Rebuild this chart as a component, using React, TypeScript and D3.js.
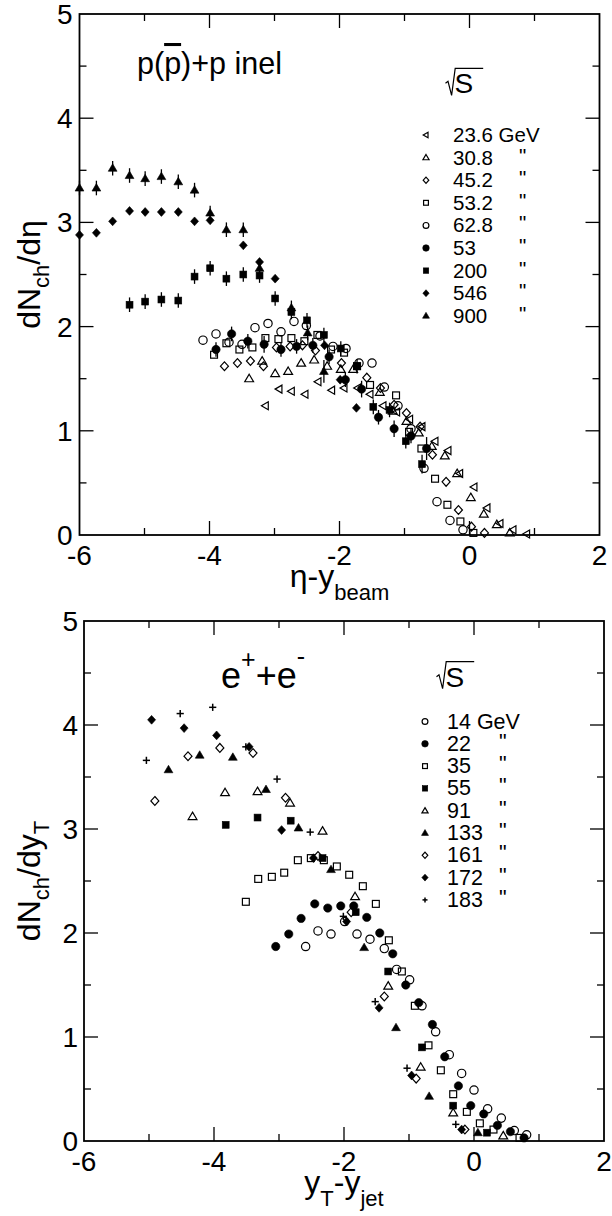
import React from 'react';
import * as d3 from 'd3';

type Pt = [number, number];
type PtE = [number, number, number];
type Kind = 'circle' | 'square' | 'diamond' | 'tri' | 'ltri' | 'plus';

const FONT = '"Liberation Sans", Arial, Helvetica, sans-serif';

// ---------- tick labels ----------
const xTickValues = [-6, -4, -2, 0, 2];
const xTickLabels = ['-6', '-4', '-2', '0', '2'];
const xMinorTicks = [-5, -3, -1, 1];
const yTickValues = [0, 1, 2, 3, 4, 5];
const yTickLabels = ['0', '1', '2', '3', '4', '5'];
const yMinorTicks = [0.5, 1.5, 2.5, 3.5, 4.5];

// ---------- top panel: p(pbar)+p inelastic, dNch/deta vs eta - ybeam ----------
const ppLabels = ['23.6 GeV', '30.8', '45.2', '53.2', '62.8', '53', '200', '546', '900'];
const pp236: Pt[] = [
  [-3.14, 1.24], [-2.93, 1.40], [-2.74, 1.38], [-2.53, 1.35], [-2.33, 1.47], [-2.12, 1.39],
  [-1.93, 1.41], [-1.72, 1.41], [-1.53, 1.35], [-1.33, 1.24], [-1.12, 1.18], [-0.92, 1.11],
  [-0.73, 1.04], [-0.53, 0.90], [-0.33, 0.81], [-0.15, 0.59], [0.07, 0.46], [0.27, 0.26],
  [0.47, 0.11], [0.67, 0.05], [0.88, 0.01],
];
const pp308: Pt[] = [
  [-3.39, 1.50], [-3.19, 1.67], [-2.99, 1.55], [-2.79, 1.57], [-2.59, 1.65], [-2.39, 1.68],
  [-2.19, 1.62], [-1.98, 1.59], [-1.79, 1.59], [-1.38, 1.37], [-1.18, 1.19], [-0.97, 1.09],
  [-0.78, 0.98], [-0.58, 0.85], [-0.38, 0.76], [-0.19, 0.59], [0.02, 0.36], [0.22, 0.20],
  [0.42, 0.10], [0.62, 0.02],
];
const pp452: Pt[] = [
  [-3.77, 1.62], [-3.57, 1.65], [-3.37, 1.67], [-3.17, 1.62], [-2.97, 1.80], [-2.76, 1.81],
  [-2.57, 1.82], [-2.37, 1.77], [-1.97, 1.65], [-1.58, 1.51], [-1.37, 1.41], [-1.16, 1.25],
  [-0.97, 1.17], [-0.76, 1.04], [-0.57, 0.77], [-0.36, 0.51], [-0.17, 0.24], [0.03, 0.08],
  [0.23, 0.02],
];
const pp532: Pt[] = [
  [-3.93, 1.73], [-3.74, 1.84], [-3.54, 1.78], [-3.34, 1.80], [-3.14, 1.89], [-2.94, 1.88],
  [-2.74, 1.89], [-2.54, 1.86], [-2.34, 1.92], [-2.13, 1.78], [-1.93, 1.75], [-1.73, 1.62],
  [-1.53, 1.44], [-1.13, 1.34], [-0.93, 0.99], [-0.74, 0.83], [-0.53, 0.54], [-0.34, 0.29],
  [-0.14, 0.13], [0.06, 0.02],
];
const pp628: Pt[] = [
  [-4.10, 1.87], [-3.90, 1.93], [-3.70, 1.85], [-3.50, 1.83], [-3.30, 1.99], [-3.10, 2.03],
  [-2.90, 1.95], [-2.70, 2.05], [-2.51, 2.01], [-2.30, 1.91], [-2.10, 1.81], [-1.90, 1.79],
  [-1.70, 1.65], [-1.50, 1.65], [-1.31, 1.42], [-1.10, 1.24], [-0.90, 1.02], [-0.70, 0.64],
  [-0.50, 0.32], [-0.30, 0.14], [-0.10, 0.05],
];
const pp53: PtE[] = [
  [-3.90, 1.78, 0.07], [-3.66, 1.93, 0.07], [-3.41, 1.86, 0.07], [-3.16, 1.83, 0.08],
  [-2.90, 1.78, 0.07], [-2.66, 1.81, 0.07], [-2.41, 1.82, 0.07], [-2.16, 1.71, 0.07],
  [-1.91, 1.49, 0.07], [-1.66, 1.40, 0.08], [-1.40, 1.13, 0.07], [-1.16, 1.02, 0.08],
  [-0.90, 0.95, 0.07], [-0.66, 0.83, 0.11],
];
const pp200: PtE[] = [
  [-5.23, 2.21, 0.07], [-4.99, 2.24, 0.07], [-4.74, 2.26, 0.07], [-4.48, 2.25, 0.07],
  [-4.23, 2.48, 0.07], [-3.99, 2.56, 0.07], [-3.74, 2.46, 0.07], [-3.48, 2.50, 0.07],
  [-3.23, 2.49, 0.07], [-2.99, 2.27, 0.07], [-2.74, 2.14, 0.07], [-2.50, 2.06, 0.07],
  [-2.24, 1.92, 0.07], [-1.98, 1.79, 0.07], [-1.73, 1.62, 0.07], [-1.48, 1.23, 0.07],
  [-1.23, 1.20, 0.07], [-0.98, 0.90, 0.07], [-0.73, 0.68, 0.09],
];
const pp546: PtE[] = [
  [-6.0, 2.88, 0], [-5.74, 2.90, 0], [-5.49, 3.01, 0], [-5.23, 3.11, 0], [-4.99, 3.10, 0],
  [-4.74, 3.10, 0], [-4.48, 3.10, 0], [-4.23, 3.01, 0], [-3.99, 3.02, 0], [-3.48, 2.78, 0],
  [-3.23, 2.62, 0], [-2.99, 2.46, 0], [-2.23, 1.82, 0], [-1.99, 1.49, 0], [-1.74, 1.22, 0],
];
const pp900: PtE[] = [
  [-6.0, 3.33, 0.07], [-5.74, 3.33, 0.07], [-5.49, 3.52, 0.07], [-5.23, 3.45, 0.07],
  [-4.99, 3.42, 0.07], [-4.74, 3.44, 0.07], [-4.48, 3.39, 0.07], [-4.23, 3.31, 0.07],
  [-3.99, 3.09, 0.07], [-3.74, 2.93, 0.07], [-3.48, 2.93, 0.07], [-3.23, 2.56, 0.07],
  [-2.74, 2.18, 0.07], [-2.49, 1.94, 0.07], [-2.24, 1.57, 0.11],
];

// ---------- bottom panel: e+e-, dNch/dyT vs yT - yjet ----------
const eeLabels = ['14 GeV', '22', '35', '55', '91', '133', '161', '172', '183'];
const ee14: Pt[] = [
  [-2.59, 1.87], [-2.40, 2.02], [-2.20, 1.99], [-1.99, 2.11], [-1.80, 1.99], [-1.60, 1.94],
  [-1.38, 1.85], [-1.19, 1.65], [-0.99, 1.55], [-0.80, 1.30], [-0.59, 1.05], [-0.38, 0.83],
  [-0.19, 0.65], [0.00, 0.49], [0.21, 0.31], [0.42, 0.22], [0.62, 0.10], [0.81, 0.06],
];
const ee22: Pt[] = [
  [-3.05, 1.87], [-2.85, 1.99], [-2.66, 2.14], [-2.45, 2.28], [-2.25, 2.24], [-2.05, 2.26],
  [-1.85, 2.26], [-1.65, 2.15], [-1.45, 2.00], [-1.25, 1.80], [-1.05, 1.50], [-0.85, 1.33],
  [-0.64, 1.12], [-0.45, 0.81], [-0.24, 0.53], [-0.05, 0.34], [0.15, 0.26], [0.36, 0.15],
  [0.56, 0.09], [0.77, 0.03],
];
const ee35: Pt[] = [
  [-3.51, 2.30], [-3.32, 2.52], [-3.11, 2.54], [-2.92, 2.58], [-2.71, 2.70], [-2.51, 2.72],
  [-2.31, 2.70], [-2.11, 2.64], [-1.92, 2.56], [-1.71, 2.45], [-1.51, 2.28], [-1.31, 1.93],
  [-1.11, 1.63], [-0.91, 1.30], [-0.70, 0.92], [-0.51, 0.68], [-0.32, 0.45], [-0.11, 0.28],
  [0.09, 0.17], [0.30, 0.11], [0.70, 0.03],
];
const ee55: Pt[] = [
  [-3.82, 3.04], [-3.33, 3.11], [-2.82, 3.08], [-2.33, 2.72], [-1.82, 2.20], [-1.32, 1.63],
  [-0.80, 0.90], [-0.32, 0.34], [0.20, 0.08],
];
const ee91: Pt[] = [
  [-4.33, 3.12], [-3.83, 3.35], [-3.33, 3.36], [-2.83, 3.25], [-2.33, 2.98], [-1.83, 2.35],
  [-1.32, 1.49], [-0.82, 0.71], [-0.32, 0.27], [0.45, 0.05],
];
const ee133: Pt[] = [
  [-4.70, 3.57], [-4.22, 3.71], [-3.71, 3.69], [-3.20, 3.38], [-2.70, 3.01], [-2.20, 2.61],
  [-1.69, 1.86], [-1.20, 1.09], [-0.69, 0.43], [0.06, 0.08],
];
const ee161: Pt[] = [
  [-4.91, 3.27], [-4.40, 3.70], [-3.91, 3.78], [-3.40, 3.73], [-2.90, 3.30], [-2.40, 2.74],
  [-1.89, 2.20], [-1.38, 1.39], [-0.89, 0.60], [-0.14, 0.11],
];
const ee172: Pt[] = [
  [-4.96, 4.05], [-4.46, 3.97], [-3.96, 3.90], [-3.46, 3.79], [-2.96, 2.99], [-2.47, 2.72],
  [-1.96, 2.11], [-1.46, 1.28], [-0.96, 0.63], [-0.19, 0.11],
];
const ee183: Pt[] = [
  [-5.04, 3.66], [-4.52, 4.11], [-4.02, 4.17], [-3.51, 3.79], [-3.03, 3.48], [-2.52, 2.97],
  [-2.01, 2.16], [-1.52, 1.34], [-1.03, 0.70], [-0.28, 0.16],
];

interface Series {
  label: string;
  kind: Kind;
  filled: boolean;
  data: PtE[];
}

const withErr = (d: Pt[]): PtE[] => d.map(([x, y]) => [x, y, 0] as PtE);

const ppSeries: Series[] = [
  { label: ppLabels[0], kind: 'ltri', filled: false, data: withErr(pp236) },
  { label: ppLabels[1], kind: 'tri', filled: false, data: withErr(pp308) },
  { label: ppLabels[2], kind: 'diamond', filled: false, data: withErr(pp452) },
  { label: ppLabels[3], kind: 'square', filled: false, data: withErr(pp532) },
  { label: ppLabels[4], kind: 'circle', filled: false, data: withErr(pp628) },
  { label: ppLabels[5], kind: 'circle', filled: true, data: pp53 },
  { label: ppLabels[6], kind: 'square', filled: true, data: pp200 },
  { label: ppLabels[7], kind: 'diamond', filled: true, data: pp546 },
  { label: ppLabels[8], kind: 'tri', filled: true, data: pp900 },
];

const eeSeries: Series[] = [
  { label: eeLabels[0], kind: 'circle', filled: false, data: withErr(ee14) },
  { label: eeLabels[1], kind: 'circle', filled: true, data: withErr(ee22) },
  { label: eeLabels[2], kind: 'square', filled: false, data: withErr(ee35) },
  { label: eeLabels[3], kind: 'square', filled: true, data: withErr(ee55) },
  { label: eeLabels[4], kind: 'tri', filled: false, data: withErr(ee91) },
  { label: eeLabels[5], kind: 'tri', filled: true, data: withErr(ee133) },
  { label: eeLabels[6], kind: 'diamond', filled: false, data: withErr(ee161) },
  { label: eeLabels[7], kind: 'diamond', filled: true, data: withErr(ee172) },
  { label: eeLabels[8], kind: 'plus', filled: false, data: withErr(ee183) },
];

function Marker({ kind, filled, cx, cy, s }: { kind: Kind; filled: boolean; cx: number; cy: number; s: number }) {
  const fill = filled ? '#000' : 'none';
  const sw = filled ? 0.6 : 1.2;
  const common = { fill, stroke: '#000', strokeWidth: sw };
  switch (kind) {
    case 'circle':
      return <circle cx={cx} cy={cy} r={s * 0.52} {...common} />;
    case 'square':
      return <rect x={cx - s * 0.43} y={cy - s * 0.43} width={s * 0.86} height={s * 0.86} {...common} />;
    case 'diamond': {
      const w = s * 0.5, h = s * 0.55;
      return <path d={`M${cx},${cy - h}L${cx + w},${cy}L${cx},${cy + h}L${cx - w},${cy}Z`} {...common} />;
    }
    case 'tri': {
      const w = s * 0.55, h1 = s * 0.55, h2 = s * 0.38;
      return <path d={`M${cx},${cy - h1}L${cx + w},${cy + h2}L${cx - w},${cy + h2}Z`} {...common} />;
    }
    case 'ltri': {
      const h = s * 0.5, w1 = s * 0.5, w2 = s * 0.36;
      return <path d={`M${cx - w1},${cy}L${cx + w2},${cy - h}L${cx + w2},${cy + h}Z`} {...common} />;
    }
    case 'plus': {
      const a = s * 0.45;
      return (
        <g stroke="#000" strokeWidth={1.5}>
          <line x1={cx - a} y1={cy} x2={cx + a} y2={cy} />
          <line x1={cx} y1={cy - a} x2={cx} y2={cy + a} />
        </g>
      );
    }
  }
  return null;
}

interface PanelProps {
  x0: number; x1: number; y0: number; y1: number;
  series: Series[];
  legendX: number; legendTextX: number; quoteX: number; legendY: number; legendStep: number;
  legendFont: number;
  sqrtX: number; sqrtY: number;
  yTitle: React.ReactNode;
  xTitle: React.ReactNode;
  title: React.ReactNode;
  markerSize: number;
  yLabelGap: number;
}

function Panel(p: PanelProps) {
  const x = d3.scaleLinear().domain([-6, 2]).range([p.x0, p.x1]);
  const y = d3.scaleLinear().domain([0, 5]).range([p.y1, p.y0]);
  const major = 14, minor = 7;
  const tickStroke = { stroke: '#000', strokeWidth: 1.3 };
  const innerMajorX = xTickValues.filter((v) => v > -6 && v < 2);
  const innerMajorY = yTickValues.filter((v) => v > 0 && v < 5);
  return (
    <g fontFamily={FONT}>
      {/* ticks */}
      {innerMajorX.map((v) => (
        <g key={'xM' + v} {...tickStroke}>
          <line x1={x(v)} x2={x(v)} y1={p.y1} y2={p.y1 - major} />
          <line x1={x(v)} x2={x(v)} y1={p.y0} y2={p.y0 + major} />
        </g>
      ))}
      {xMinorTicks.map((v) => (
        <g key={'xm' + v} {...tickStroke}>
          <line x1={x(v)} x2={x(v)} y1={p.y1} y2={p.y1 - minor} />
          <line x1={x(v)} x2={x(v)} y1={p.y0} y2={p.y0 + minor} />
        </g>
      ))}
      {innerMajorY.map((v) => (
        <g key={'yM' + v} {...tickStroke}>
          <line x1={p.x0} x2={p.x0 + major} y1={y(v)} y2={y(v)} />
          <line x1={p.x1} x2={p.x1 - major} y1={y(v)} y2={y(v)} />
        </g>
      ))}
      {yMinorTicks.map((v) => (
        <g key={'ym' + v} {...tickStroke}>
          <line x1={p.x0} x2={p.x0 + minor} y1={y(v)} y2={y(v)} />
          <line x1={p.x1} x2={p.x1 - minor} y1={y(v)} y2={y(v)} />
        </g>
      ))}
      <rect x={p.x0} y={p.y0} width={p.x1 - p.x0} height={p.y1 - p.y0} fill="none" stroke="#000" strokeWidth={1.8} />
      {/* tick labels */}
      {xTickValues.map((v, i) => (
        <text key={'xl' + v} x={x(v)} y={p.y1 + 30} textAnchor="middle" fontSize={28}>{xTickLabels[i]}</text>
      ))}
      {yTickValues.map((v, i) => (
        <text key={'yl' + v} x={p.x0 - p.yLabelGap} y={y(v) + 10} textAnchor="end" fontSize={28}>{yTickLabels[i]}</text>
      ))}
      {/* data */}
      {p.series.map((s, si) => (
        <g key={'s' + si}>
          {s.data.map(([dx, dy, de], i) => (
            <g key={i}>
              {de > 0 && (
                <line x1={x(dx)} x2={x(dx)} y1={y(dy - de)} y2={y(dy + de)} stroke="#000" strokeWidth={1.3} />
              )}
              <Marker kind={s.kind} filled={s.filled} cx={x(dx)} cy={y(dy)} s={p.markerSize} />
            </g>
          ))}
        </g>
      ))}
      {/* legend */}
      <path
        d={`M${p.sqrtX},${p.sqrtY + 15}l2.5,-2l3.6,14l3.6,-27h28`}
        fill="none" stroke="#000" strokeWidth={1.2}
      />
      <text x={p.sqrtX + 9} y={p.sqrtY + 25} fontSize={28}>S</text>
      {p.series.map((s, i) => {
        const cy = p.legendY + i * p.legendStep;
        return (
          <g key={'lg' + i}>
            <Marker kind={s.kind} filled={s.filled} cx={p.legendX} cy={cy} s={s.filled ? 6.3 : 5.6} />
            <text x={p.legendTextX} y={cy + 7} fontSize={p.legendFont}>{s.label}</text>
            {i > 0 && <text x={p.quoteX} y={cy + 5} fontSize={p.legendFont}>"</text>}
          </g>
        );
      })}
      {p.title}
      <text transform={`translate(40,${(p.y0 + p.y1) / 2}) rotate(-90)`} textAnchor="middle" fontSize={32}>{p.yTitle}</text>
      <text x={(p.x0 + p.x1) / 2} y={p.y1 + 52} textAnchor="middle" fontSize={32}>{p.xTitle}</text>
    </g>
  );
}

export default function App() {
  return (
    <svg width={612} height={1216} style={{ position: 'absolute', left: 0, top: 0, background: '#fff' }}>
      <rect x={0} y={0} width={612} height={1216} fill="#fff" />
      <Panel
        x0={79.5} x1={599.5} y0={14} y1={535}
        series={ppSeries}
        legendX={426} legendTextX={453} quoteX={519} legendY={135} legendStep={22.6} legendFont={20.5}
        sqrtX={445.5} sqrtY={68.3}
        markerSize={8}
        yLabelGap={7}
        title={
          <text x={137} y={74} fontSize={30.5}>
            p(<tspan style={{ textDecoration: 'overline' }}>p</tspan>)+p inel
          </text>
        }
        yTitle={<>dN<tspan dy={9} fontSize={22}>ch</tspan><tspan dy={-9}>/dη</tspan></>}
        xTitle={<>η-y<tspan dy={13} fontSize={22}>beam</tspan></>}
      />
      <Panel
        x0={84} x1={604} y0={621} y1={1141}
        series={eeSeries}
        legendX={425} legendTextX={447} quoteX={499} legendY={721.5} legendStep={22.3} legendFont={21.5}
        sqrtX={436.5} sqrtY={661.7}
        markerSize={8}
        yLabelGap={6}
        title={
          <text x={221} y={688} fontSize={36}>
            e<tspan dy={-20} fontSize={25}>+</tspan><tspan dy={20}>+e</tspan><tspan dy={-23} fontSize={25}>-</tspan>
          </text>
        }
        yTitle={<>dN<tspan dy={9} fontSize={22}>ch</tspan><tspan dy={-9}>/dy</tspan><tspan dy={9} fontSize={22}>T</tspan></>}
        xTitle={<>y<tspan dy={13} fontSize={22}>T</tspan><tspan dy={-13}>-y</tspan><tspan dy={13} fontSize={22}>jet</tspan></>}
      />
    </svg>
  );
}
